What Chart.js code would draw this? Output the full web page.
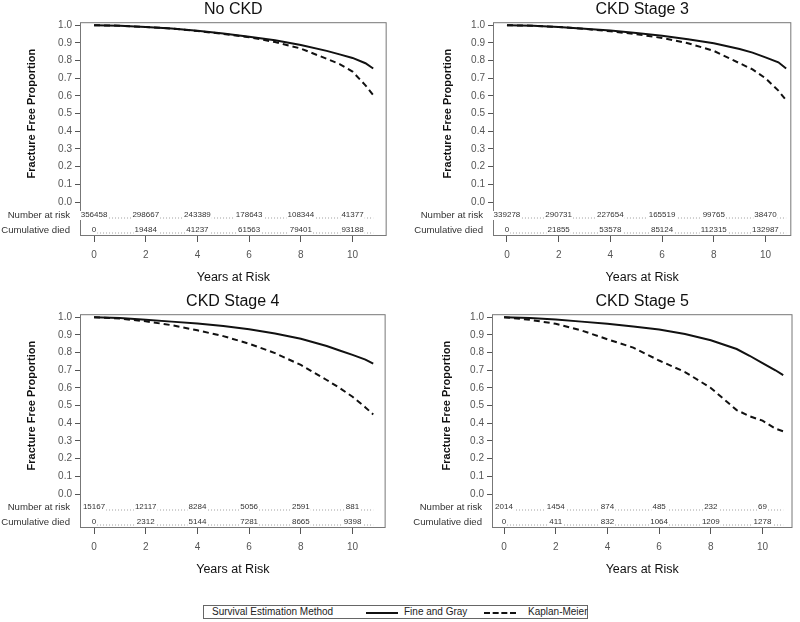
<!DOCTYPE html>
<html>
<head>
<meta charset="utf-8">
<script src="https://cdn.jsdelivr.net/npm/chart.js@4/dist/chart.umd.min.js"></script>
<style>
  body { margin: 0; background: #fff; font-family: "Liberation Sans", Arial, sans-serif; }
  #page { position: relative; width: 800px; height: 622px; }
  .panel { position: absolute; width: 400px; height: 292px; }
  #legend { position: absolute; left: 203px; top: 605px; width: 383px; height: 12px;
            border: 1px solid #666; font-size: 10px; line-height: 12px; color: #222; }
  #legend span { position: absolute; top: 0; white-space: nowrap; }
  #legend i { position: absolute; top: 6px; height: 0; width: 32px; }
</style>
</head>
<body>
<div id="page">
  <div class="panel" style="left:0;top:0"><canvas id="noCkd" width="400" height="292"></canvas></div>
  <div class="panel" style="left:400px;top:0"><canvas id="stage3" width="400" height="292"></canvas></div>
  <div class="panel" style="left:0;top:292px"><canvas id="stage4" width="400" height="292"></canvas></div>
  <div class="panel" style="left:400px;top:292px"><canvas id="stage5" width="400" height="292"></canvas></div>
  <div id="legend">
    <span style="left:8px">Survival Estimation Method</span>
    <i style="left:162px;border-top:2px solid #111"></i>
    <span style="left:200px">Fine and Gray</span>
    <i style="left:280px;border-top:2px dashed #111"></i>
    <span style="left:324px">Kaplan-Meier</span>
  </div>
</div>
<script>
// time points (years) used for the curves
const years = [0, 1, 2, 3, 4, 5, 6, 7, 8, 9, 9.5, 10, 10.5, 10.8];
const xTicks = [0, 2, 4, 6, 8, 10];
const yTicks = [0, 0.1, 0.2, 0.3, 0.4, 0.5, 0.6, 0.7, 0.8, 0.9, 1.0];
const riskYears = [0, 2, 4, 6, 8, 10];

// No CKD
const noCkdFG = [1.0, 0.997, 0.99, 0.981, 0.968, 0.953, 0.935, 0.915, 0.888, 0.855, 0.835, 0.815, 0.785, 0.755];
const noCkdKM = [1.0, 0.997, 0.99, 0.981, 0.967, 0.951, 0.932, 0.905, 0.868, 0.81, 0.78, 0.738, 0.66, 0.605];
const noCkdAtRisk = [356458, 298667, 243389, 178643, 108344, 41377];
const noCkdDied = [0, 19484, 41237, 61563, 79401, 93188];

// CKD Stage 3
const stage3FG = [1.0, 0.997, 0.99, 0.98, 0.97, 0.956, 0.94, 0.92, 0.898, 0.865, 0.845, 0.818, 0.79, 0.755];
const stage3KM = [1.0, 0.997, 0.99, 0.979, 0.966, 0.949, 0.928, 0.898, 0.855, 0.785, 0.75, 0.70, 0.63, 0.575];
const stage3AtRisk = [339278, 290731, 227654, 165519, 99765, 38470];
const stage3Died = [0, 21855, 53578, 85124, 112315, 132987];

// CKD Stage 4
const stage4FG = [1.0, 0.995, 0.986, 0.975, 0.964, 0.95, 0.932, 0.908, 0.878, 0.837, 0.812, 0.787, 0.76, 0.737];
const stage4KM = [1.0, 0.992, 0.977, 0.955, 0.926, 0.893, 0.85, 0.797, 0.73, 0.645, 0.6, 0.55, 0.49, 0.45];
const stage4AtRisk = [15167, 12117, 8284, 5056, 2591, 881];
const stage4Died = [0, 2312, 5144, 7281, 8665, 9398];

// CKD Stage 5
const stage5FG = [1.0, 0.995, 0.987, 0.975, 0.963, 0.948, 0.93, 0.905, 0.87, 0.82, 0.782, 0.74, 0.7, 0.672];
const stage5KM = [1.0, 0.985, 0.963, 0.925, 0.875, 0.828, 0.755, 0.69, 0.6, 0.475, 0.44, 0.415, 0.37, 0.355];
const stage5AtRisk = [2014, 1454, 874, 485, 232, 69];
const stage5Died = [0, 411, 832, 1064, 1209, 1278];

const FONT = '"Liberation Sans", Arial, sans-serif';

// frame around the plot, y title centred on 0..1, number-at-risk table inside the plot
const riskTable = {
  id: 'riskTable',
  afterDraw(chart, args, opts) {
    const { ctx, chartArea: a, scales: { x, y } } = chart;
    ctx.save();
    ctx.strokeStyle = '#777';
    ctx.lineWidth = 1;
    ctx.strokeRect(a.left + 0.5, a.top + 0.5, a.right - a.left - 1, a.bottom - a.top - 1);

    // y axis title
    ctx.save();
    ctx.translate(opts.titleX, y.getPixelForValue(0.5));
    ctx.rotate(-Math.PI / 2);
    ctx.font = 'bold 11px ' + FONT;
    ctx.fillStyle = '#111';
    ctx.textAlign = 'center';
    ctx.textBaseline = 'middle';
    ctx.fillText('Fracture Free Proportion', 0, 0);
    ctx.restore();

    const rows = [
      ['Number at risk', opts.atRisk, a.bottom - 21],
      ['Cumulative died', opts.died, a.bottom - 6],
    ];
    rows.forEach(([label, vals, ry]) => {
      ctx.font = '9.6px ' + FONT;
      ctx.fillStyle = '#333';
      ctx.textAlign = 'right';
      ctx.textBaseline = 'middle';
      ctx.fillText(label, a.left - 10, ry);

      ctx.setLineDash([1, 2]);
      ctx.strokeStyle = '#888';
      ctx.lineWidth = 0.8;
      ctx.beginPath();
      ctx.moveTo(x.getPixelForValue(0), ry + 3);
      ctx.lineTo(x.getPixelForValue(years[years.length - 1]), ry + 3);
      ctx.stroke();
      ctx.setLineDash([]);

      ctx.font = '8px ' + FONT;
      ctx.textAlign = 'center';
      vals.forEach((v, i) => {
        const px = x.getPixelForValue(riskYears[i]);
        const w = ctx.measureText(String(v)).width;
        ctx.fillStyle = '#fff';
        ctx.fillRect(px - w / 2 - 1, ry - 4, w + 2, 9);
        ctx.fillStyle = '#333';
        ctx.fillText(String(v), px, ry);
      });
    });
    ctx.restore();
  }
};

function makePanel(id, title, fg, km, atRisk, died, xMin, xMax, leftWidth, titleX) {
  const ctx = document.getElementById(id).getContext('2d');
  return new Chart(ctx, {
    type: 'line',
    data: {
      datasets: [{
        label: 'Fine and Gray',
        data: years.map((t, i) => ({ x: t, y: fg[i] })),
        borderColor: '#111',
        borderWidth: 2,
        pointRadius: 0,
        tension: 0,
      }, {
        label: 'Kaplan-Meier',
        data: years.map((t, i) => ({ x: t, y: km[i] })),
        borderColor: '#111',
        borderWidth: 2,
        borderDash: [6, 4],
        pointRadius: 0,
        tension: 0,
      }],
    },
    options: {
      responsive: false,
      animation: false,
      layout: { padding: { left: 0, right: 400 - leftWidth - (xMax - xMin) * 25.85, top: 0, bottom: 0 } },
      plugins: {
        legend: { display: false },
        tooltip: { enabled: false },
        title: {
          display: true, text: title, fullSize: false, color: '#111',
          font: { family: FONT, size: 16, weight: 'normal' },
          padding: { top: 0, bottom: 3 },
        },
        riskTable: { atRisk, died, titleX },
      },
      scales: {
        x: {
          type: 'linear', min: xMin, max: xMax,
          afterBuildTicks: s => { s.ticks = xTicks.map(v => ({ value: v })); },
          afterFit: s => { s.height = 56; },
          border: { display: false },
          grid: { drawOnChartArea: false, drawTicks: true, tickLength: 6, color: '#555' },
          ticks: { color: '#555', padding: 7, font: { family: FONT, size: 10 } },
          title: {
            display: true, text: 'Years at Risk', color: '#111',
            font: { family: FONT, size: 12.5 }, padding: { top: 0, bottom: 7 },
          },
        },
        y: {
          type: 'linear', min: -0.192, max: 1.017,
          afterBuildTicks: s => { s.ticks = yTicks.map(v => ({ value: v })); },
          afterFit: s => { s.width = leftWidth; },
          border: { display: false },
          grid: { drawOnChartArea: false, drawTicks: true, tickLength: 5, color: '#555' },
          ticks: { color: '#555', padding: 3, font: { family: FONT, size: 10 }, callback: v => v.toFixed(1) },
        },
      },
    },
    plugins: [riskTable],
  });
}

makePanel('noCkd', 'No CKD', noCkdFG, noCkdKM, noCkdAtRisk, noCkdDied, -0.543, 11.32, 80, 32);
makePanel('stage3', 'CKD Stage 3', stage3FG, stage3KM, stage3AtRisk, stage3Died, -0.54, 11.0, 93, 48);
makePanel('stage4', 'CKD Stage 4', stage4FG, stage4KM, stage4AtRisk, stage4Died, -0.543, 11.28, 80, 32);
makePanel('stage5', 'CKD Stage 5', stage5FG, stage5KM, stage5AtRisk, stage5Died, -0.465, 11.16, 92, 47);
</script>
</body>
</html>
